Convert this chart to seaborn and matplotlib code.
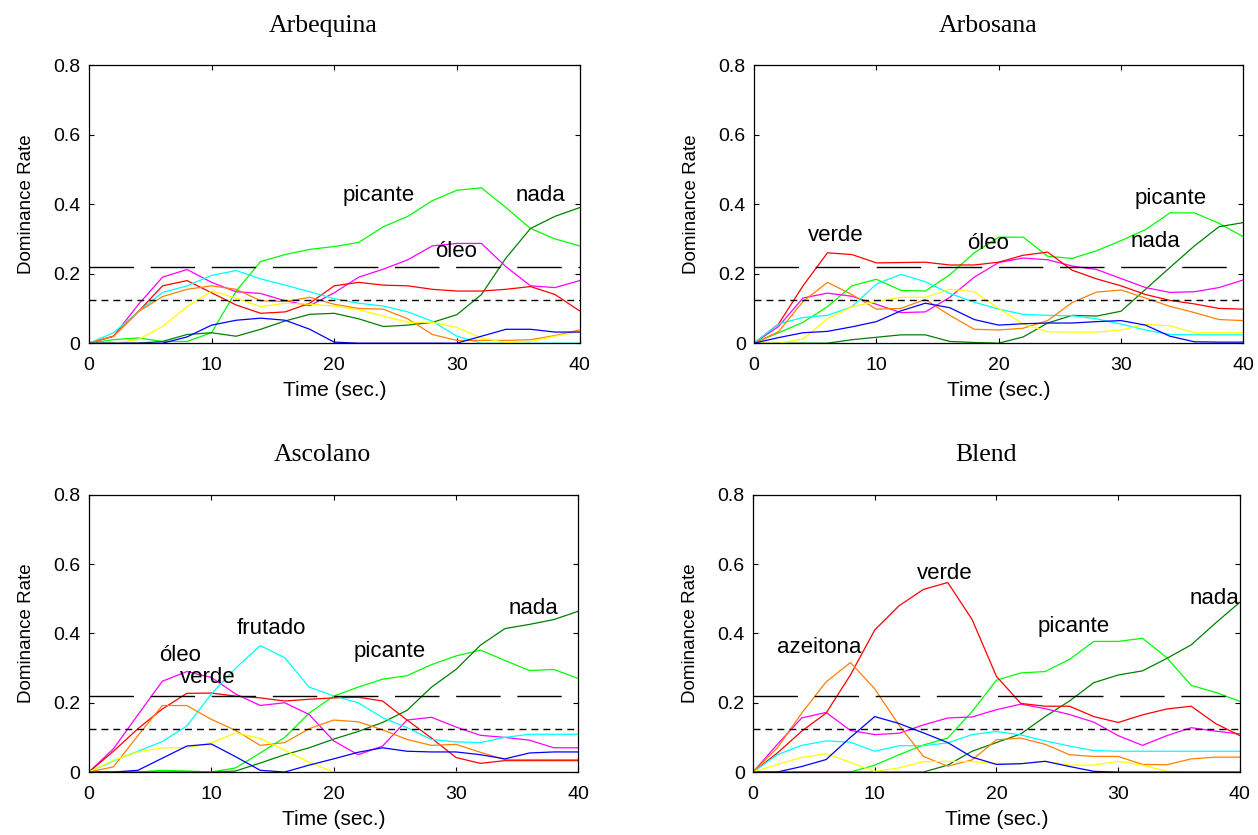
import pandas as pd
import seaborn as sns
import matplotlib.pyplot as plt

time_sec = [0, 2, 4, 6, 8, 10, 12, 14, 16, 18, 20, 22, 24, 26, 28, 30, 32, 34, 36, 38, 40]

# dominance rates per attribute, one list per curve
# --- Arbequina
arbequina_picante = [0, 0.01, 0.015, 0.005, 0.005, 0.03, 0.15, 0.235, 0.255, 0.27, 0.278, 0.29, 0.335, 0.365, 0.41, 0.44, 0.447, 0.39, 0.33, 0.30, 0.28]
arbequina_nada = [0, 0, 0, 0.005, 0.025, 0.03, 0.02, 0.04, 0.064, 0.083, 0.086, 0.07, 0.048, 0.052, 0.06, 0.082, 0.14, 0.245, 0.33, 0.365, 0.39]
arbequina_oleo = [0, 0.02, 0.11, 0.19, 0.212, 0.175, 0.148, 0.143, 0.122, 0.108, 0.145, 0.19, 0.213, 0.24, 0.28, 0.287, 0.287, 0.22, 0.165, 0.16, 0.18]
arbequina_verde = [0, 0.02, 0.09, 0.165, 0.18, 0.145, 0.11, 0.086, 0.09, 0.115, 0.165, 0.175, 0.167, 0.165, 0.155, 0.15, 0.15, 0.155, 0.163, 0.14, 0.093]
arbequina_frutado = [0, 0.03, 0.09, 0.146, 0.165, 0.195, 0.209, 0.185, 0.167, 0.148, 0.128, 0.115, 0.107, 0.09, 0.063, 0.02, 0, 0, 0, 0, 0]
arbequina_azeitona = [0, 0.02, 0.09, 0.134, 0.155, 0.165, 0.155, 0.122, 0.12, 0.132, 0.112, 0.10, 0.098, 0.07, 0.025, 0.008, 0.008, 0.008, 0.01, 0.022, 0.038]
arbequina_attr7 = [0, 0, 0.01, 0.048, 0.105, 0.15, 0.13, 0.105, 0.115, 0.112, 0.107, 0.096, 0.078, 0.06, 0.06, 0.045, 0.015, 0.002, 0.005, 0.02, 0.033]
arbequina_attr8 = [0, 0, 0, 0, 0.018, 0.052, 0.066, 0.072, 0.066, 0.04, 0.003, 0, 0, 0, 0, 0, 0.02, 0.04, 0.04, 0.032, 0.032]

# --- Arbosana
arbosana_picante = [0, 0.03, 0.06, 0.105, 0.165, 0.184, 0.152, 0.15, 0.197, 0.26, 0.305, 0.305, 0.25, 0.244, 0.266, 0.295, 0.327, 0.375, 0.375, 0.345, 0.306]
arbosana_nada = [0, 0, 0, 0, 0.01, 0.017, 0.024, 0.024, 0.005, 0.002, 0, 0.018, 0.058, 0.08, 0.078, 0.092, 0.155, 0.218, 0.28, 0.335, 0.347]
arbosana_oleo = [0, 0.048, 0.13, 0.144, 0.135, 0.112, 0.088, 0.09, 0.132, 0.19, 0.232, 0.245, 0.24, 0.222, 0.212, 0.186, 0.16, 0.146, 0.148, 0.16, 0.182]
arbosana_verde = [0, 0.055, 0.165, 0.26, 0.255, 0.231, 0.232, 0.233, 0.225, 0.225, 0.233, 0.253, 0.262, 0.21, 0.185, 0.165, 0.14, 0.123, 0.113, 0.10, 0.098]
arbosana_frutado = [0, 0.055, 0.074, 0.08, 0.105, 0.17, 0.198, 0.177, 0.143, 0.118, 0.098, 0.083, 0.08, 0.079, 0.07, 0.055, 0.038, 0.025, 0.024, 0.024, 0.024]
arbosana_azeitona = [0, 0.033, 0.12, 0.175, 0.14, 0.098, 0.10, 0.126, 0.08, 0.04, 0.038, 0.043, 0.065, 0.117, 0.147, 0.153, 0.13, 0.106, 0.088, 0.068, 0.065]
arbosana_attr7 = [0, 0, 0.012, 0.07, 0.105, 0.12, 0.132, 0.132, 0.155, 0.148, 0.10, 0.055, 0.033, 0.032, 0.032, 0.038, 0.054, 0.05, 0.03, 0.03, 0.03]
arbosana_attr8 = [0, 0.016, 0.03, 0.034, 0.047, 0.062, 0.093, 0.115, 0.102, 0.068, 0.052, 0.056, 0.058, 0.058, 0.062, 0.065, 0.052, 0.02, 0.004, 0.003, 0.003]

# --- Ascolano
ascolano_picante = [0, 0, 0, 0.005, 0.003, 0, 0.012, 0.055, 0.10, 0.17, 0.219, 0.245, 0.268, 0.278, 0.31, 0.335, 0.352, 0.322, 0.293, 0.296, 0.27]
ascolano_nada = [0, 0, 0, 0, 0, 0, 0.003, 0.026, 0.05, 0.07, 0.095, 0.117, 0.143, 0.178, 0.245, 0.296, 0.366, 0.414, 0.426, 0.44, 0.464]
ascolano_oleo = [0, 0.067, 0.165, 0.262, 0.29, 0.273, 0.225, 0.192, 0.20, 0.166, 0.09, 0.05, 0.075, 0.15, 0.158, 0.13, 0.106, 0.10, 0.092, 0.07, 0.07]
ascolano_verde = [0, 0.06, 0.125, 0.182, 0.227, 0.228, 0.219, 0.214, 0.205, 0.21, 0.214, 0.216, 0.205, 0.15, 0.098, 0.042, 0.025, 0.033, 0.033, 0.033, 0.033]
ascolano_frutado = [0, 0.032, 0.06, 0.088, 0.133, 0.225, 0.30, 0.365, 0.33, 0.245, 0.22, 0.20, 0.157, 0.128, 0.094, 0.087, 0.085, 0.10, 0.109, 0.109, 0.109]
ascolano_azeitona = [0, 0.015, 0.105, 0.192, 0.192, 0.152, 0.12, 0.077, 0.085, 0.125, 0.15, 0.145, 0.122, 0.094, 0.077, 0.08, 0.057, 0.036, 0.036, 0.036, 0.036]
ascolano_attr7 = [0, 0.034, 0.058, 0.07, 0.07, 0.084, 0.113, 0.097, 0.063, 0.028, 0, 0, 0, 0, 0, 0, 0, 0, 0, 0, 0]
ascolano_attr8 = [0, 0, 0.005, 0.04, 0.075, 0.081, 0.044, 0.005, 0, 0.02, 0.038, 0.057, 0.07, 0.06, 0.058, 0.058, 0.05, 0.038, 0.055, 0.058, 0.058]

# --- Blend
blend_picante = [0, 0, 0, 0, 0, 0.02, 0.05, 0.078, 0.098, 0.175, 0.265, 0.286, 0.29, 0.325, 0.377, 0.377, 0.386, 0.33, 0.25, 0.23, 0.204]
blend_nada = [0, 0, 0, 0, 0, 0, 0, 0, 0.02, 0.06, 0.085, 0.11, 0.16, 0.205, 0.258, 0.28, 0.292, 0.328, 0.367, 0.43, 0.49]
blend_oleo = [0, 0.08, 0.156, 0.172, 0.12, 0.108, 0.112, 0.136, 0.156, 0.159, 0.18, 0.196, 0.183, 0.166, 0.144, 0.105, 0.077, 0.105, 0.128, 0.118, 0.11]
blend_verde = [0, 0.055, 0.118, 0.17, 0.28, 0.41, 0.48, 0.527, 0.547, 0.44, 0.276, 0.198, 0.19, 0.19, 0.16, 0.143, 0.165, 0.182, 0.19, 0.14, 0.105]
blend_frutado = [0, 0.05, 0.077, 0.09, 0.086, 0.06, 0.076, 0.076, 0.084, 0.108, 0.117, 0.107, 0.09, 0.075, 0.062, 0.06, 0.06, 0.06, 0.06, 0.06, 0.06]
blend_azeitona = [0, 0.07, 0.17, 0.26, 0.316, 0.24, 0.135, 0.045, 0.017, 0.035, 0.093, 0.098, 0.08, 0.05, 0.045, 0.045, 0.022, 0.021, 0.038, 0.043, 0.043]
blend_attr7 = [0, 0.022, 0.042, 0.053, 0.028, 0.002, 0.012, 0.03, 0.031, 0.03, 0.025, 0.024, 0.031, 0.02, 0.02, 0.031, 0.02, 0.002, 0, 0, 0]
blend_attr8 = [0, 0, 0.016, 0.036, 0.10, 0.16, 0.14, 0.113, 0.085, 0.043, 0.022, 0.024, 0.031, 0.016, 0.002, 0, 0, 0, 0, 0, 0]

attributes = ['picante', 'nada', 'oleo', 'verde', 'frutado', 'azeitona', 'attr7', 'attr8']
colors = {'picante': '#00ff00', 'nada': '#008000', 'oleo': '#ff00ff', 'verde': '#ff0000',
          'frutado': '#00ffff', 'azeitona': '#ff8000', 'attr7': '#ffff00', 'attr8': '#0000ff'}

chance_level = 0.125
significance_level = 0.219

panels = [
    ('Arbequina', [arbequina_picante, arbequina_nada, arbequina_oleo, arbequina_verde,
                   arbequina_frutado, arbequina_azeitona, arbequina_attr7, arbequina_attr8],
     [('picante', 20.7, 0.424), ('nada', 34.8, 0.424), ('óleo', 28.2, 0.263)]),
    ('Arbosana', [arbosana_picante, arbosana_nada, arbosana_oleo, arbosana_verde,
                  arbosana_frutado, arbosana_azeitona, arbosana_attr7, arbosana_attr8],
     [('picante', 31.1, 0.417), ('nada', 30.8, 0.292), ('verde', 4.4, 0.311), ('óleo', 17.4, 0.286)]),
    ('Ascolano', [ascolano_picante, ascolano_nada, ascolano_oleo, ascolano_verde,
                  ascolano_frutado, ascolano_azeitona, ascolano_attr7, ascolano_attr8],
     [('nada', 34.3, 0.473), ('frutado', 12.1, 0.413), ('picante', 21.6, 0.349),
      ('óleo', 5.7, 0.337), ('verde', 7.4, 0.273)]),
    ('Blend', [blend_picante, blend_nada, blend_oleo, blend_verde,
               blend_frutado, blend_azeitona, blend_attr7, blend_attr8],
     [('verde', 13.5, 0.574), ('nada', 35.9, 0.502), ('picante', 23.4, 0.42), ('azeitona', 2.0, 0.36)]),
]

# axes rectangles in figure fractions (left, bottom, width, height)
rects = [(0.0707, 0.589, 0.390, 0.333), (0.5994, 0.589, 0.389, 0.333),
         (0.0707, 0.0754, 0.389, 0.332), (0.5986, 0.0754, 0.387, 0.332)]

sns.set_style('ticks')
plt.rcParams['font.family'] = ['Liberation Sans', 'DejaVu Sans']
plt.rcParams['lines.scale_dashes'] = False
for key in ['text.color', 'axes.labelcolor', 'xtick.color', 'ytick.color']:
    plt.rcParams[key] = 'black'

fig = plt.figure(figsize=(12.58, 8.35), dpi=100)

for (title, series, labels), rect in zip(panels, rects):
    ax = fig.add_axes(rect)
    frames = []
    for attr, values in zip(attributes, series):
        frames.append(pd.DataFrame({'time': time_sec, 'rate': values, 'attr': attr}))
    df = pd.concat(frames, ignore_index=True)

    sns.lineplot(data=df, x='time', y='rate', hue='attr', palette=colors,
                 hue_order=attributes, estimator=None, legend=False,
                 linewidth=0.9, ax=ax)

    ax.axhline(significance_level, color='black', linewidth=1.0, linestyle=(0, (32, 12)))
    ax.axhline(chance_level, color='black', linewidth=1.0, linestyle=(0, (5, 3.6)))

    for text, x, y in labels:
        ax.text(x, y, text, fontsize=16, ha='left', va='center')

    ax.set_xlim(0, 40)
    ax.set_ylim(0, 0.8)
    ax.set_xticks([0, 10, 20, 30, 40])
    ax.set_yticks([0, 0.2, 0.4, 0.6, 0.8])
    ax.set_yticklabels(['0', '0.2', '0.4', '0.6', '0.8'])
    ax.tick_params(direction='in', top=True, right=True, length=3.5, width=0.8,
                   labelsize=14, color='black')
    ax.tick_params(axis='x', pad=10)
    ax.tick_params(axis='y', pad=6)
    for sp in ax.spines.values():
        sp.set_visible(True)
        sp.set_linewidth(0.9)
        sp.set_color('black')

    ax.set_xlabel('Time (sec.)', fontsize=15, labelpad=5)
    ax.set_ylabel('Dominance Rate', fontsize=13.5, labelpad=13)
    # titles sit slightly left of the axes centre in the original
    ax.set_title(title, fontsize=18.5, family=['Liberation Serif', 'DejaVu Serif'],
                 pad=24, x=0.478)

fig.savefig('out.png', dpi=100)
